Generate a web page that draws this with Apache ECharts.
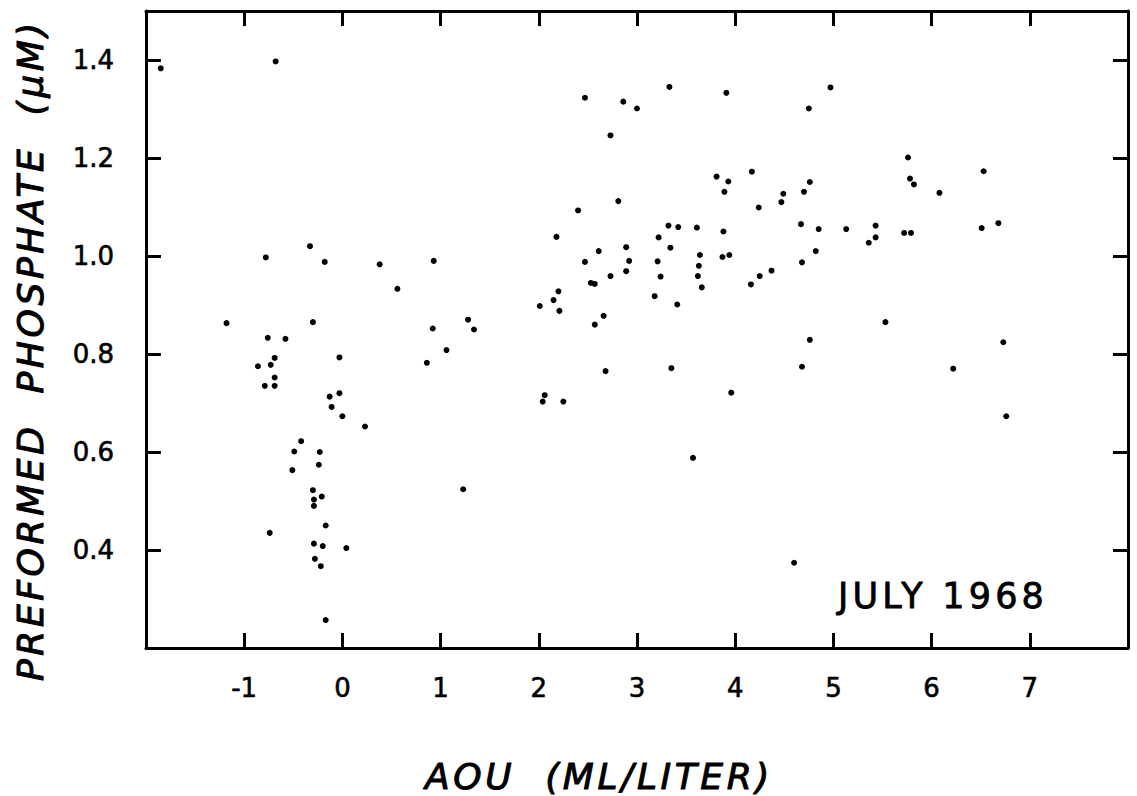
<!DOCTYPE html>
<html>
<head>
<meta charset="utf-8">
<script src="https://cdn.jsdelivr.net/npm/echarts@6/dist/echarts.min.js"></script>
<style>
  html, body { margin: 0; padding: 0; background: #fff; }
  #chart { width: 1137px; height: 796px; }
  svg text { white-space: pre; }
  svg text[style*="italic"] { letter-spacing: 0.1em; }
  svg text[style*="sans-serif"] { letter-spacing: 0.12em; }
</style>
</head>
<body>
<div id="chart"></div>
<script>
// AOU (ml/liter) values
const aou = [
  -1.85, -0.68, -0.33, -0.78, -0.18, 0.38, 0.93, 0.56, -1.18, -0.30,
  1.28, 0.92, -0.76, -0.58, 1.06, -0.69, -0.03, -0.86, -0.73, 0.86,
  -0.69, -0.79, -0.69, -0.03, -0.13, -0.11, 0.00, 0.23, -0.42, -0.49,
  -0.23, -0.24, -0.51, -0.30, -0.21, -0.29, -0.29, 1.23, -0.17, -0.74,
  -0.29, -0.20, 0.04, -0.28, -0.22, -0.17, 3.33, 2.47, 2.86, 3.00,
  2.73, 3.81, 2.81, 2.40, 3.32, 3.42, 3.61, 2.18, 3.22, 2.89,
  3.34, 2.61, 3.64, 3.87, 2.47, 2.92, 3.21, 3.63, 2.89, 2.73,
  3.24, 3.62, 2.53, 2.57, 3.66, 2.20, 2.15, 3.18, 2.01, 2.21,
  3.41, 2.66, 2.57, 1.34, 2.68, 3.35, 2.06, 2.04, 2.25, 3.57,
  3.91, 4.97, 4.75, 5.76, 3.93, 4.17, 3.89, 4.76, 4.70, 4.49,
  4.47, 4.24, 5.78, 5.82, 6.08, 3.88, 4.67, 4.85, 5.13, 5.43,
  5.43, 5.36, 5.72, 5.79, 3.94, 4.82, 4.68, 4.37, 4.25, 4.16,
  5.53, 4.76, 4.68, 6.22, 3.96, 4.60, 6.53, 6.68, 6.51, 6.73,
  6.76
];
// Preformed phosphate (µM) values
const phosphate = [
  1.383, 1.397, 1.020, 0.997, 0.988, 0.983, 0.990, 0.933, 0.863, 0.865,
  0.870, 0.852, 0.833, 0.831, 0.808, 0.792, 0.793, 0.775, 0.778, 0.782,
  0.752, 0.735, 0.735, 0.720, 0.713, 0.692, 0.673, 0.652, 0.622, 0.601,
  0.600, 0.574, 0.563, 0.522, 0.509, 0.503, 0.490, 0.524, 0.450, 0.435,
  0.413, 0.408, 0.404, 0.382, 0.367, 0.257, 1.345, 1.323, 1.315, 1.301,
  1.246, 1.162, 1.112, 1.093, 1.062, 1.059, 1.058, 1.039, 1.038, 1.018,
  1.017, 1.010, 1.002, 0.998, 0.988, 0.990, 0.989, 0.980, 0.969, 0.959,
  0.958, 0.959, 0.945, 0.943, 0.936, 0.928, 0.910, 0.918, 0.898, 0.888,
  0.901, 0.878, 0.860, 0.850, 0.765, 0.771, 0.716, 0.703, 0.703, 0.588,
  1.333, 1.344, 1.301, 1.201, 1.152, 1.172, 1.131, 1.151, 1.131, 1.127,
  1.110, 1.099, 1.158, 1.146, 1.129, 1.050, 1.065, 1.055, 1.055, 1.062,
  1.038, 1.027, 1.047, 1.047, 1.002, 1.010, 0.987, 0.970, 0.959, 0.942,
  0.865, 0.829, 0.774, 0.770, 0.721, 0.374, 1.173, 1.067, 1.057, 0.824,
  0.673
];
const xTitle = 'AOU  (ML/LITER)';
const yTitle = 'PREFORMED  PHOSPHATE  (\u03bcM)';
const panelNote = 'JULY 1968';

const points = aou.map((x, i) => [x, phosphate[i]]);

const chart = echarts.init(document.getElementById('chart'), null, { renderer: 'svg' });

const lineStyle = { color: '#000', width: 3 };
const tickStyle = { inside: true, length: 15, lineStyle: { color: '#000', width: 3 } };
const labelFont = 'DejaVu Sans';

chart.setOption({
  animation: false,
  backgroundColor: '#fff',
  grid: { left: 146, right: 9, top: 11, bottom: 148 },
  xAxis: [
    {
      type: 'value', min: -2, max: 8, interval: 1, position: 'bottom',
      axisLine: { show: true, onZero: false, lineStyle: lineStyle },
      axisTick: tickStyle,
      axisLabel: { showMinLabel: false, showMaxLabel: false, margin: 27, color: '#000',
                   fontSize: 26, fontFamily: labelFont,
                   textBorderColor: '#000', textBorderWidth: 0.6 },
      splitLine: { show: false }
    },
    {
      type: 'value', min: -2, max: 8, interval: 1, position: 'top',
      axisLine: { show: true, onZero: false, lineStyle: lineStyle },
      axisTick: tickStyle,
      axisLabel: { show: false },
      splitLine: { show: false }
    }
  ],
  yAxis: [
    {
      type: 'value', min: 0.2, max: 1.5, interval: 0.2, position: 'left',
      axisLine: { show: true, onZero: false, lineStyle: lineStyle },
      axisTick: tickStyle,
      axisLabel: { showMinLabel: false, showMaxLabel: false, margin: 32, color: '#000',
                   fontSize: 26, fontFamily: labelFont,
                   textBorderColor: '#000', textBorderWidth: 0.6,
                   formatter: v => v.toFixed(1) },
      splitLine: { show: false }
    },
    {
      type: 'value', min: 0.2, max: 1.5, interval: 0.2, position: 'right',
      axisLine: { show: true, onZero: false, lineStyle: lineStyle },
      axisTick: tickStyle,
      axisLabel: { show: false },
      splitLine: { show: false }
    }
  ],
  graphic: [
    { type: 'text', x: 599, y: 776,
      style: { text: xTitle, fill: '#000', stroke: '#000', lineWidth: 1, fontSize: 36, fontStyle: 'italic',
               fontFamily: 'DejaVu Sans', textAlign: 'center', textVerticalAlign: 'middle', verticalAlign: 'middle' } },
    { type: 'text', x: 30, y: 350, rotation: Math.PI / 2,
      style: { text: yTitle, fill: '#000', stroke: '#000', lineWidth: 1, fontSize: 36, fontStyle: 'italic',
               fontFamily: 'DejaVu Sans', textAlign: 'center', textVerticalAlign: 'middle', verticalAlign: 'middle' } },
    { type: 'text', x: 943, y: 596,
      style: { text: panelNote, fill: '#000', stroke: '#000', lineWidth: 0.8, fontSize: 35,
               fontFamily: 'DejaVu Sans, sans-serif', textAlign: 'center', textVerticalAlign: 'middle', verticalAlign: 'middle' } }
  ],
  series: [{
    type: 'scatter',
    xAxisIndex: 0, yAxisIndex: 0,
    data: points,
    symbol: 'circle',
    symbolSize: 6,
    itemStyle: { color: '#000', opacity: 1 }
  }]
});
</script>
</body>
</html>
